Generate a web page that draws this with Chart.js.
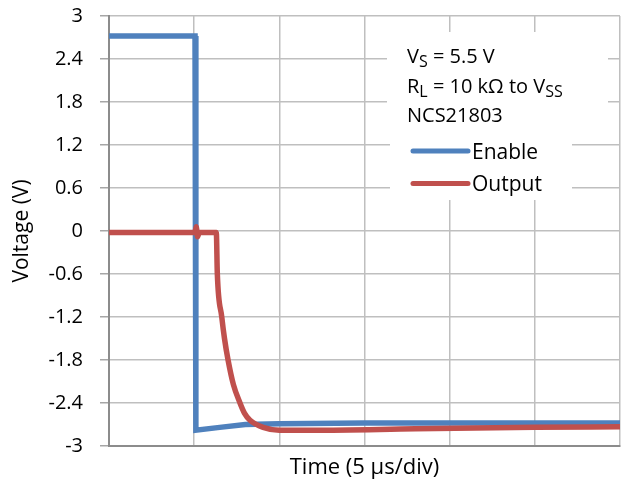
<!DOCTYPE html>
<html>
<head>
<meta charset="utf-8">
<title>Enable to Output</title>
<script src="https://cdn.jsdelivr.net/npm/chart.js@4/dist/chart.umd.min.js"></script>
<style>
  html, body { margin: 0; padding: 0; background: #fff; }
  #wrap { width: 621px; height: 487px; }
</style>
</head>
<body>
<div id="wrap"><canvas id="chart" width="621" height="487"></canvas></div>
<script>
// Data read from the scope capture (time in µs, voltage in V)
const seriesNames = ['Enable', 'Output'];
const seriesColors = ['#4F81BD', '#C0504D'];

const enableTime = [0, 5.05, 5.1, 6.5, 8, 10, 15, 20, 30];
const enableVolt = [2.72, 2.72, -2.78, -2.74, -2.70, -2.69, -2.68, -2.68, -2.68];

const outputTime = [0, 5.05, 5.12, 5.2, 5.3, 6.3, 6.36, 6.62, 6.78, 6.99, 7.3, 7.69, 7.95, 8.28, 9.05, 10, 12, 18, 25, 30];
const outputVolt = [-0.02, -0.02, 0.06, -0.08, -0.02, -0.02, -0.6, -1.2, -1.5, -1.8, -2.14, -2.4, -2.54, -2.64, -2.74, -2.78, -2.78, -2.76, -2.74, -2.73];

const xTicks = [0, 5, 10, 15, 20, 25, 30];
const yTicks = [-3, -2.4, -1.8, -1.2, -0.6, 0, 0.6, 1.2, 1.8, 2.4, 3];
const yTickLabels = ['-3', '-2.4', '-1.8', '-1.2', '-0.6', '0', '0.6', '1.2', '1.8', '2.4', '3'];

// note lines: [text, isSubscript]
const noteLines = [
  [['V', false], ['S', true], [' = 5.5 V', false]],
  [['R', false], ['L', true], [' = 10 kΩ to V', false], ['SS', true]],
  [['NCS21803', false]]
];

const FONT = '"Open Sans", "DejaVu Sans", sans-serif';

function toPoints(xs, ys) {
  return xs.map((x, i) => ({ x: x, y: ys[i] }));
}

// Draw the text box and legend inside the plot area
const noteBox = {
  id: 'noteBox',
  beforeDatasetsDraw(chart) {
    const { ctx, chartArea } = chart;
    ctx.save();
    ctx.fillStyle = '#ffffff';
    // upper box (notes) and lower box (legend)
    ctx.fillRect(chartArea.left + 278, chartArea.top + 16, 221, 94);
    ctx.fillRect(chartArea.left + 281, chartArea.top + 109, 182, 75);
    ctx.restore();
  },
  afterDatasetsDraw(chart) {
    const { ctx, chartArea } = chart;
    ctx.save();
    ctx.fillStyle = '#000000';
    ctx.textBaseline = 'alphabetic';
    ctx.textAlign = 'left';

    const x0 = chartArea.left + 298;
    noteLines.forEach((parts, i) => {
      let x = x0;
      const y = chartArea.top + 47 + i * 29.5;
      parts.forEach(([txt, sub]) => {
        ctx.font = sub ? '16px ' + FONT : '20px ' + FONT;
        ctx.fillText(txt, x, sub ? y + 4 : y);
        x += ctx.measureText(txt).width;
      });
    });

    // legend entries
    ctx.font = '21px ' + FONT;
    ctx.lineCap = 'round';
    ctx.lineWidth = 5;
    seriesNames.forEach((name, i) => {
      const y = chartArea.top + 135 + i * 32.5;
      ctx.strokeStyle = seriesColors[i];
      ctx.beginPath();
      ctx.moveTo(chartArea.left + 304, y);
      ctx.lineTo(chartArea.left + 359, y);
      ctx.stroke();
      ctx.fillText(name, chartArea.left + 363, y + 7.5);
    });
    ctx.restore();
  }
};

const ctx = document.getElementById('chart').getContext('2d');
new Chart(ctx, {
  type: 'line',
  data: {
    datasets: [
      {
        label: seriesNames[0],
        data: toPoints(enableTime, enableVolt),
        borderColor: seriesColors[0],
        borderWidth: 5.5,
        pointRadius: 0,
        tension: 0,
        order: 1
      },
      {
        label: seriesNames[1],
        data: toPoints(outputTime, outputVolt),
        borderColor: seriesColors[1],
        borderWidth: 5.5,
        pointRadius: 0,
        cubicInterpolationMode: 'monotone',
        order: 0
      }
    ]
  },
  options: {
    responsive: false,
    animation: false,
    layout: { padding: { left: 0, right: 1, top: 16, bottom: 0 } },
    plugins: {
      legend: { display: false },
      tooltip: { enabled: false }
    },
    scales: {
      x: {
        type: 'linear',
        min: 0,
        max: 30,
        afterBuildTicks: (axis) => { axis.ticks = xTicks.map(v => ({ value: v })); },
        afterFit: (axis) => { axis.height = 41; axis.paddingLeft = 0; axis.paddingRight = 0; },
        ticks: { display: false },
        grid: { color: '#bfbfbf', lineWidth: 1.5, drawTicks: false },
        border: { color: '#8c8c8c', width: 2 },
        title: {
          display: true,
          text: 'Time (5 µs/div)',
          color: '#000',
          font: { family: FONT, size: 22 },
          padding: { top: 0, bottom: 6 }
        }
      },
      y: {
        min: -3,
        max: 3,
        afterBuildTicks: (axis) => { axis.ticks = yTicks.map(v => ({ value: v })); },
        afterFit: (axis) => { axis.width = 109; axis.paddingTop = 0; axis.paddingBottom = 0; },
        ticks: {
          color: '#000',
          font: { family: FONT, size: 20 },
          padding: 17,
          callback: (value, index) => yTickLabels[index]
        },
        grid: { color: '#bfbfbf', lineWidth: 1.5, tickLength: 9, tickColor: '#a6a6a6' },
        border: { color: '#8c8c8c', width: 2 },
        title: {
          display: true,
          text: 'Voltage (V)',
          color: '#000',
          font: { family: FONT, size: 21 },
          padding: { top: 9, bottom: 0 }
        }
      }
    }
  },
  plugins: [noteBox]
});
</script>
</body>
</html>
